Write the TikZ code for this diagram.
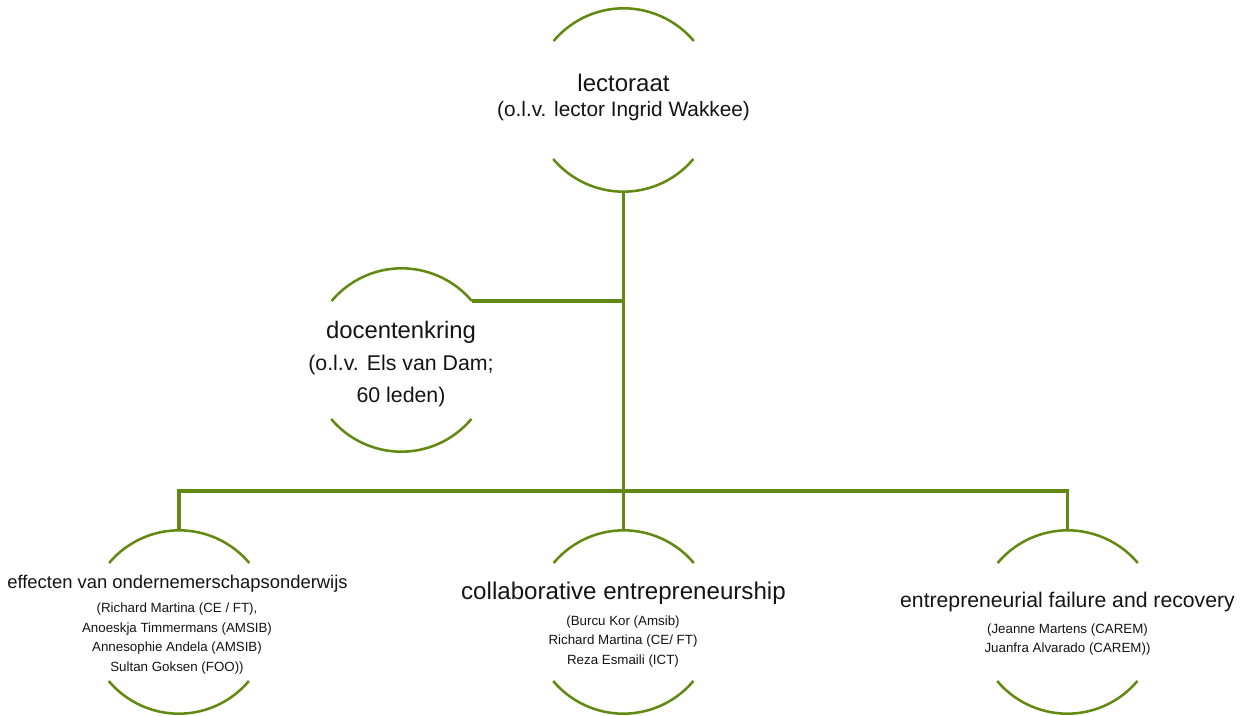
\documentclass[tikz,border=0pt]{standalone}
\usepackage{fontspec}
\setmainfont{Liberation Sans}
\definecolor{lgreen}{RGB}{98,138,18}
\definecolor{ltext}{RGB}{20,20,20}
\tikzset{
  ring/.style={circle, minimum size=137.25pt, inner sep=0pt, draw=none},
  arcline/.style={draw=lgreen, line width=1.9pt},
  conn/.style={draw=lgreen, line width=2.3pt, line join=miter},
  ttl/.style={anchor=base, inner sep=0pt, text=ltext, align=center},
  sub/.style={anchor=base, inner sep=0pt, text=ltext, align=center},
}
\newcommand{\ringarcs}[1]{%
  \draw[arcline] (#1.40) arc[start angle=40, end angle=140, radius=68.625pt];
  \draw[arcline] (#1.220) arc[start angle=220, end angle=320, radius=68.625pt];
}
\begin{document}
\begin{tikzpicture}[x=0.75pt, y=0.75pt]
\useasboundingbox (0,0) rectangle (1244,715);
% rings
\node[ring] (L) at (623.5,615) {};
\node[ring] (D) at (401.5,355) {};
\node[ring] (E) at (179,93) {};
\node[ring] (C) at (623.5,93) {};
\node[ring] (F) at (1067.5,93) {};
\ringarcs{L}
\ringarcs{D}
\ringarcs{E}
\ringarcs{C}
\ringarcs{F}
% connectors
\coordinate (bar) at (623.5,224);
\draw[conn] (L.south) -- (C.north);
\draw[conn] (D.40) -- (D.40 -| L.south);
\draw[conn] (E.north) -- (E.north |- bar) -- (F.north |- bar) -- (F.north);
% texts (multi-line nodes: base = baseline of last line)
\node[ttl, font=\fontsize{18}{18}\selectfont] (lt) at (623.5,623) {lectoraat};
\node[sub, font=\fontsize{15.6}{18.75}\selectfont] (ls) at (623.5,598) {(o.l.v. lector Ingrid Wakkee)};
\node[ttl, font=\fontsize{17.9}{18}\selectfont] (dt) at (401,377) {docentenkring};
\node[sub, font=\fontsize{16}{24}\selectfont] (ds) at (401,313) {(o.l.v. Els van Dam;\\60 leden)};
\node[ttl, font=\fontsize{13.8}{14}\selectfont] (et) at (177.5,127) {effecten van ondernemerschapsonderwijs};
\node[sub, font=\fontsize{10}{14.6}\selectfont] (es) at (177,44) {(Richard Martina (CE / FT),\\Anoeskja Timmermans (AMSIB)\\Annesophie Andela (AMSIB)\\Sultan Goksen (FOO))};
\node[ttl, font=\fontsize{18.1}{18}\selectfont] (ct) at (623.5,116) {collaborative entrepreneurship};
\node[sub, font=\fontsize{10}{14.6}\selectfont] (cs) at (623,51) {(Burcu Kor (Amsib)\\Richard Martina (CE/ FT)\\Reza Esmaili (ICT)};
\node[ttl, font=\fontsize{15.9}{16}\selectfont] (ft) at (1067.5,108) {entrepreneurial failure and recovery};
\node[sub, font=\fontsize{10}{14.25}\selectfont] (fs) at (1067.5,63) {(Jeanne Martens (CAREM)\\Juanfra Alvarado (CAREM))};
\end{tikzpicture}
\end{document}
